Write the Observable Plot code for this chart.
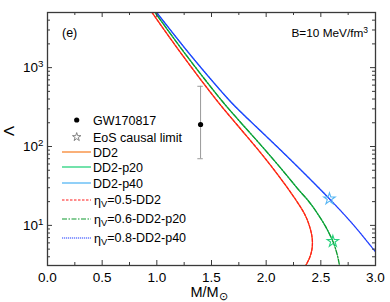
<!DOCTYPE html>
<html><head><meta charset="utf-8">
<script src="https://cdn.jsdelivr.net/npm/d3@7"></script>
<script src="https://cdn.jsdelivr.net/npm/@observablehq/plot@0.6"></script>
<style>
html,body{margin:0;padding:0;background:#fff;}
</style></head><body><div id="chart"></div>
<script>
const FONT = "'Liberation Sans', Arial, Helvetica, sans-serif";

// ---- data ----
const massDD2    = [0.885, 0.960, 1.246, 1.551, 1.749, 1.948, 2.119, 2.275, 2.353, 2.397, 2.421, 2.420, 2.399, 2.358, 2.323];
const lambdaDD2  = [6963, 4910, 1365, 380, 178, 83.6, 41.6, 20.7, 13.8, 9.7, 6.85, 5.12, 3.94, 3.03, 2.55];
const massP20    = [0.909, 0.988, 1.281, 1.595, 1.761, 1.940, 2.152, 2.302, 2.383, 2.457, 2.543, 2.610, 2.649, 2.672, 2.682];
const lambdaP20  = [6963, 4910, 1365, 380, 206, 108.6, 49.5, 27.7, 20.7, 15.0, 9.7, 6.28, 4.30, 3.03, 2.40];
const massP40    = [0.917, 1.003, 1.322, 1.667, 1.794, 1.928, 2.175, 2.415, 2.579, 2.794, 3.000, 3.050];
const lambdaP40  = [6963, 4910, 1365, 380, 252.6, 168, 78.9, 37.0, 21.7, 10.3, 4.63, 3.83];

const causalSeries = ["DD2-p20", "DD2-p40"];
const causalMass   = [2.610, 2.579];
const causalLambda = [6.28, 21.7];

const gwMass = [1.4];
const gwLambda = [190];
const gwLow = [70];
const gwHigh = [580];

const xTicks = [0, 0.5, 1.0, 1.5, 2.0, 2.5, 3.0];
const xMinorTicks = [0.25, 0.75, 1.25, 1.75, 2.25, 2.75];
const yTicks = [10, 100, 1000];
const yMinorTicks = [4,5,6,7,8,9,20,30,40,50,60,70,80,90,200,300,400,500,600,700,800,900,2000,3000,4000,5000];

const legendLabels = ["GW170817", "EoS causal limit", "DD2", "DD2-p20", "DD2-p40", "η_V=0.5-DD2", "η_V=0.6-DD2-p20", "η_V=0.8-DD2-p40"];

// ---- styles ----
const C = {
  dd2: "#f7862f", p20: "#27d27d", p40: "#56b6f4",
  e5: "#ff1a1a", e6: "#0f9a2e", e8: "#1f3dff"
};
const AX = "#3a3a3a";

const rows = (ms, ls) => ms.map((m, i) => ({m, l: ls[i]}));
const rDD2 = rows(massDD2, lambdaDD2);
const rP20 = rows(massP20, lambdaP20);
const rP40 = rows(massP40, lambdaP40);
// solid base EoS curves stop at their causal limit
const cut = (r, k) => r.slice(0, r.findIndex(d => d.m === causalMass[k]) + 1);
const rP20s = cut(rP20, 0);
const rP40s = cut(rP40, 1);
const stars = causalSeries.map((s, i) => ({s, m: causalMass[i], l: causalLambda[i]}));
const gw = gwMass.map((m, i) => ({m, l: gwLambda[i], lo: gwLow[i], hi: gwHigh[i]}));

const W = 390, H = 302, ML = 47, MR = 15, MT = 12, MB = 37;
const FW = W - ML - MR, FH = H - MT - MB;

const ln = (data, o) => Plot.line(data, {x: "m", y: "l", curve: "catmull-rom", clip: true, ...o});

const chart = Plot.plot({
  width: W, height: H,
  marginLeft: ML, marginRight: MR, marginTop: MT, marginBottom: MB,
  style: {fontFamily: FONT, fontSize: "13.5px", color: "#000", background: "#fff"},
  x: {domain: [0, 3]},
  y: {type: "log", domain: [3.1, 5000]},
  marks: [
    // base EoS (solid)
    ln(rDD2, {stroke: C.dd2, strokeWidth: 1.2}),
    ln(rP20s, {stroke: C.p20, strokeWidth: 1.2}),
    ln(rP40s, {stroke: C.p40, strokeWidth: 1.2}),
    // eta_V curves
    ln(rDD2, {stroke: C.e5, strokeWidth: 1.3, strokeDasharray: "3,1.5"}),
    ln(rP20, {stroke: C.e6, strokeWidth: 1.3, strokeDasharray: "5,1.5,1.5,1.5"}),
    ln(rP40, {stroke: C.e8, strokeWidth: 1.3, strokeDasharray: "1.5,0.8"}),
    // GW170817
    Plot.ruleX(gw, {x: "m", y1: "lo", y2: "hi", stroke: "#999", strokeWidth: 1}),
    Plot.ruleY(gw, {y: "lo", x1: d => d.m - 0.025, x2: d => d.m + 0.025, stroke: "#999"}),
    Plot.ruleY(gw, {y: "hi", x1: d => d.m - 0.025, x2: d => d.m + 0.025, stroke: "#999"}),
    Plot.dot(gw, {x: "m", y: "l", r: 2.6, fill: "#000"}),
    // causal limit stars
    Plot.dot(stars, {x: "m", y: "l", symbol: "star", r: 3.6, fill: "none",
      stroke: d => d.s === "DD2-p20" ? C.p20 : C.p40, strokeWidth: 1.1}),
    // inward ticks
    Plot.ruleX(xTicks, {stroke: AX, insetTop: FH - 5}),
    Plot.ruleX(xTicks, {stroke: AX, insetBottom: FH - 5}),
    Plot.ruleX(xMinorTicks, {stroke: AX, insetTop: FH - 3}),
    Plot.ruleX(xMinorTicks, {stroke: AX, insetBottom: FH - 3}),
    Plot.ruleY(yTicks, {stroke: AX, insetRight: FW - 5}),
    Plot.ruleY(yTicks, {stroke: AX, insetLeft: FW - 5}),
    Plot.ruleY(yMinorTicks, {stroke: AX, insetRight: FW - 3}),
    Plot.ruleY(yMinorTicks, {stroke: AX, insetLeft: FW - 3}),
    Plot.frame({stroke: AX, strokeWidth: 1.3}),
    Plot.axisX({ticks: xTicks, tickSize: 0, tickPadding: 7, tickFormat: d3.format(".1f"), label: null, fontSize: 13.5}),
    Plot.axisY({ticks: yTicks, tickSize: 0, tickPadding: 4, tickFormat: d => String(d), label: null, fontSize: 13.5})
  ]
});
document.getElementById("chart").appendChild(chart);

const svg = d3.select(chart);
// superscript exponents on y tick labels
svg.selectAll('g[aria-label="y-axis tick label"] text').each(function() {
  const t = d3.select(this);
  const v = +t.text();
  const e = Math.round(Math.log10(v));
  t.text("10");
  t.append("tspan").attr("dy", "-0.5em").attr("font-size", "0.72em").text(e);
});

const ann = svg.append("g").attr("font-family", FONT).attr("fill", "#000").attr("text-anchor", "start");
// panel label and B value
ann.append("text").attr("x", 62).attr("y", 36.5).attr("font-size", 12.5).text("(e)");
const bt = ann.append("text").attr("x", 291.5).attr("y", 36.7).attr("font-size", 11.8).text("B=10 MeV/fm");
bt.append("tspan").attr("dy", "-0.45em").attr("font-size", "0.72em").text("3");
// axis titles
const xt = ann.append("text").attr("x", 209).attr("y", 297).attr("font-size", 14.5).attr("text-anchor", "middle").text("M/M");
xt.append("tspan").attr("dy", "0.3em").attr("font-size", "0.75em").text("⊙");
ann.append("text").attr("transform", "translate(14,131) rotate(-90)").attr("font-size", 15)
  .attr("text-anchor", "middle").text("Λ");

// legend
const legY = [120, 137, 152, 167, 183, 200, 219, 238];
const sym = [
  g => g.append("circle").attr("cx", 76.7).attr("r", 2.6).attr("fill", "#000"),
  g => g.append("path").attr("transform", "translate(76.7,0)").attr("d", d3.symbol(d3.symbolStar, 22)()).attr("fill", "none").attr("stroke", "#777").attr("stroke-width", 0.9),
  g => g.append("line").attr("x1", 62).attr("x2", 91).attr("stroke", C.dd2).attr("stroke-width", 1.3),
  g => g.append("line").attr("x1", 62).attr("x2", 91).attr("stroke", C.p20).attr("stroke-width", 1.3),
  g => g.append("line").attr("x1", 62).attr("x2", 91).attr("stroke", C.p40).attr("stroke-width", 1.3),
  g => g.append("line").attr("x1", 62).attr("x2", 91).attr("stroke", C.e5).attr("stroke-width", 1.2).attr("stroke-dasharray", "2.5,1.5"),
  g => g.append("line").attr("x1", 62).attr("x2", 91).attr("stroke", C.e6).attr("stroke-width", 1.2).attr("stroke-dasharray", "5,1.5,1.5,1.5"),
  g => g.append("line").attr("x1", 62).attr("x2", 91).attr("stroke", C.e8).attr("stroke-width", 1.2).attr("stroke-dasharray", "1.2,0.8")
];
legendLabels.forEach((lab, i) => {
  const g = ann.append("g").attr("transform", `translate(0,${legY[i]})`);
  sym[i](g);
  const t = g.append("text").attr("x", 93).attr("dy", "0.36em").attr("font-size", 12.5);
  const parts = lab.split("_");
  if (parts.length === 2) {
    t.attr("x", 94);
    t.append("tspan").text(parts[0]);
    t.append("tspan").attr("dy", "0.3em").attr("font-size", "0.75em").text(parts[1][0]);
    t.append("tspan").attr("dy", "-0.3em").attr("font-size", "1em").text(parts[1].slice(1));
  } else {
    t.text(lab);
  }
});
</script></body></html>
